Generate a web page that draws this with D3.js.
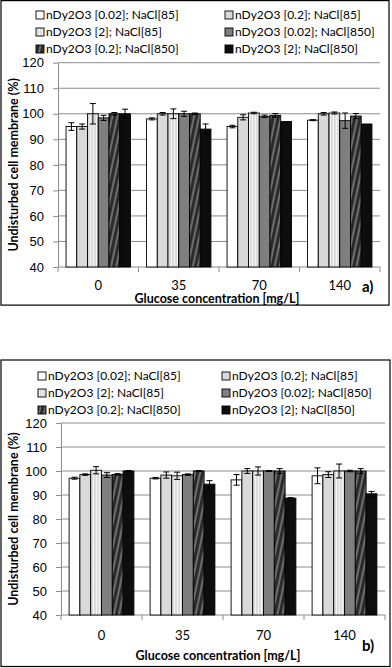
<!DOCTYPE html>
<meta charset="utf-8">
<style>
body { margin: 0; background: #fff; }
svg { display: block; font-family: Lato, "Liberation Sans", sans-serif; }
.grid line { stroke: #8c8c8c; stroke-width: 1; }
.axis path, .axis line { stroke: #8c8c8c; }
.axis text { fill: #000; font-size: 13px; }
.frame { fill: none; stroke: #000; stroke-width: 1.2; }
.bar { stroke: #000; stroke-width: 0.9; }
.err { stroke: #000; stroke-width: 1; }
.legend text { font-size: 12px; fill: #000; }
.ttl { font-weight: bold; font-size: 12.5px; fill: #000; }
</style>
<body>
<div id="chart"></div>
<script src="https://d3js.org/d3.v7.min.js"></script>
<script>
// glucose concentrations (x categories)
var groups = ["0", "35", "70", "140"];
var series = ["nDy2O3 [0.02]; NaCl[85]", "nDy2O3 [0.2]; NaCl[85]", "nDy2O3 [2]; NaCl[85]",
              "nDy2O3 [0.02]; NaCl[850]", "nDy2O3 [0.2]; NaCl[850]", "nDy2O3 [2]; NaCl[850]"];
var yTicks = [40, 50, 60, 70, 80, 90, 100, 110, 120];

// panel a) values, one row per series, one column per glucose level
var valuesA = [
  [95, 98, 95, 97.5],
  [95, 100, 98.6, 100],
  [100, 100, 100.3, 100.3],
  [98.4, 100, 99, 97.3],
  [100, 100, 99.4, 99.1],
  [100, 94, 97, 96]
];
var errorsA = [
  [1.5, 0.4, 0.5, 0.2],
  [1, 0.5, 1, 0.5],
  [4, 1.9, 0.3, 0.4],
  [1, 1, 0.5, 3],
  [0.5, 0.3, 0.7, 1],
  [1.8, 2, 0, 0]
];

// panel b)
var valuesB = [
  [97, 97, 96.3, 98],
  [98.5, 98.3, 100, 98.5],
  [100.3, 98, 100, 100],
  [98.3, 98.5, 100, 100],
  [98.6, 100, 100, 100],
  [100, 94.5, 88.7, 90.5]
];
var errorsB = [
  [0.4, 0.3, 2.2, 3.3],
  [0.3, 1.3, 1, 1.2],
  [1.5, 1.5, 1.7, 2.9],
  [1, 0.3, 0.2, 0.3],
  [0.3, 0.2, 1, 1],
  [0.2, 1.5, 0.2, 1]
];

var svg = d3.select("#chart").append("svg")
    .attr("width", 392)
    .attr("height", 668);

// fills / patterns
var defs = svg.append("defs");
var vs = defs.append("pattern").attr("id", "vstripe")
    .attr("patternUnits", "userSpaceOnUse").attr("width", 3).attr("height", 4);
vs.append("rect").attr("width", 3).attr("height", 4).attr("fill", "#f4f4f4");
vs.append("rect").attr("x", 1.5).attr("width", 1).attr("height", 4).attr("fill", "#c4c4c4");

var dg = defs.append("pattern").attr("id", "diag")
    .attr("patternUnits", "userSpaceOnUse").attr("width", 5).attr("height", 10)
    .attr("patternTransform", "rotate(12)");
dg.append("rect").attr("width", 5).attr("height", 10).attr("fill", "#2b2b2b");
dg.append("rect").attr("x", 3.6).attr("width", 0.9).attr("height", 10).attr("fill", "#bdbdbd");

var fills = ["#ffffff", "#d9d9d9", "url(#vstripe)", "#7f7f7f", "url(#diag)", "#0d0d0d"];

function drawPanel(cfg) {
    var g = svg.append("g");

    g.append("rect").attr("class", "frame")
        .attr("x", cfg.frame[0]).attr("y", cfg.frame[1])
        .attr("width", cfg.frame[2]).attr("height", cfg.frame[3]);

    // legend, two columns x three rows
    var leg = g.append("g").attr("class", "legend");
    series.forEach(function(s, i) {
        var col = i % 2, row = Math.floor(i / 2);
        var lx = cfg.legX[col], ly = cfg.legY + row * 17;
        leg.append("rect")
            .attr("x", lx).attr("y", ly - 4)
            .attr("width", 8).attr("height", 8)
            .attr("fill", fills[i]).attr("stroke", "#000").attr("stroke-width", 0.9);
        leg.append("text")
            .attr("x", lx + 10).attr("y", ly)
            .attr("dy", "0.35em")
            .text(s);
    });

    var x0 = d3.scaleBand().domain(groups).range([cfg.left, cfg.right]);
    var pad = x0.bandwidth() * 0.1;
    var x1 = d3.scaleBand().domain(d3.range(series.length))
        .range([pad, x0.bandwidth() - pad]);
    var y = d3.scaleLinear().domain([40, 120]).range([cfg.bottom, cfg.top]);

    // gridlines
    g.append("g").attr("class", "grid")
        .selectAll("line")
        .data(yTicks.slice(1))
      .enter().append("line")
        .attr("x1", cfg.left).attr("x2", cfg.right)
        .attr("y1", function(d) { return y(d); })
        .attr("y2", function(d) { return y(d); });

    g.append("g").attr("class", "axis")
        .attr("transform", "translate(" + cfg.left + ",0)")
        .call(d3.axisLeft(y).tickValues(yTicks).tickSize(5).tickPadding(9).tickSizeOuter(0));

    // x axis: ticks at category boundaries
    var xAxis = g.append("g").attr("class", "axis")
        .attr("transform", "translate(0," + cfg.bottom + ")");
    xAxis.append("line").attr("x1", cfg.left).attr("x2", cfg.right);
    xAxis.selectAll(".bt")
        .data(groups.concat(["end"]))
      .enter().append("line")
        .attr("x1", function(d, i) { return cfg.left + i * x0.step(); })
        .attr("x2", function(d, i) { return cfg.left + i * x0.step(); })
        .attr("y1", 0).attr("y2", 5);
    xAxis.selectAll("text")
        .data(groups)
      .enter().append("text")
        .attr("x", function(d) { return x0(d) + x0.bandwidth() / 2; })
        .attr("y", cfg.catY - cfg.bottom)
        .attr("dy", "0.35em")
        .attr("text-anchor", "middle")
        .text(function(d) { return d; });

    // bars
    var bars = g.append("g");
    series.forEach(function(s, si) {
        groups.forEach(function(gr, gi) {
            var v = cfg.values[si][gi], e = cfg.errors[si][gi];
            var bx = x0(gr) + x1(si), bw = x1.bandwidth();
            bars.append("rect").attr("class", "bar")
                .attr("x", bx).attr("y", y(v))
                .attr("width", bw).attr("height", y(40) - y(v))
                .attr("fill", fills[si]);
            if (e > 0) {
                var cx = bx + bw / 2;
                bars.append("line").attr("class", "err")
                    .attr("x1", cx).attr("x2", cx)
                    .attr("y1", y(v + e)).attr("y2", y(v - e));
                [v + e, v - e].forEach(function(t) {
                    bars.append("line").attr("class", "err")
                        .attr("x1", cx - 3).attr("x2", cx + 3)
                        .attr("y1", y(t)).attr("y2", y(t));
                });
            }
        });
    });

    // titles
    g.append("text").attr("class", "ttl")
        .attr("transform", "translate(" + cfg.yTitleX + "," + (cfg.top + cfg.bottom) / 2 + ") rotate(-90)")
        .attr("text-anchor", "middle")
        .attr("dy", "0.35em")
        .text("Undisturbed cell membrane (%)");
    g.append("text").attr("class", "ttl")
        .attr("x", cfg.xTitle[0]).attr("y", cfg.xTitle[1])
        .attr("text-anchor", "middle").attr("dy", "0.35em")
        .text("Glucose concentration [mg/L]");
    g.append("text").attr("class", "ttl")
        .style("font-size", "15px")
        .attr("x", cfg.tag[0]).attr("y", cfg.tag[1])
        .attr("dy", "0.35em")
        .text(cfg.label);
}

drawPanel({
    frame: [1, 0.6, 388, 304.5],
    legX: [36, 225], legY: 15,
    left: 58, right: 380, top: 62.7, bottom: 267,
    catY: 285.5, xTitle: [217, 298.5], tag: [362, 287], yTitleX: 14,
    values: valuesA, errors: errorsA, label: "a)"
});

drawPanel({
    frame: [1, 360, 389, 306.5],
    legX: [38, 222], legY: 376,
    left: 61, right: 385, top: 423, bottom: 615,
    catY: 635, xTitle: [218, 656], tag: [362, 646], yTitleX: 14,
    values: valuesB, errors: errorsB, label: "b)"
});
</script>
</body>
